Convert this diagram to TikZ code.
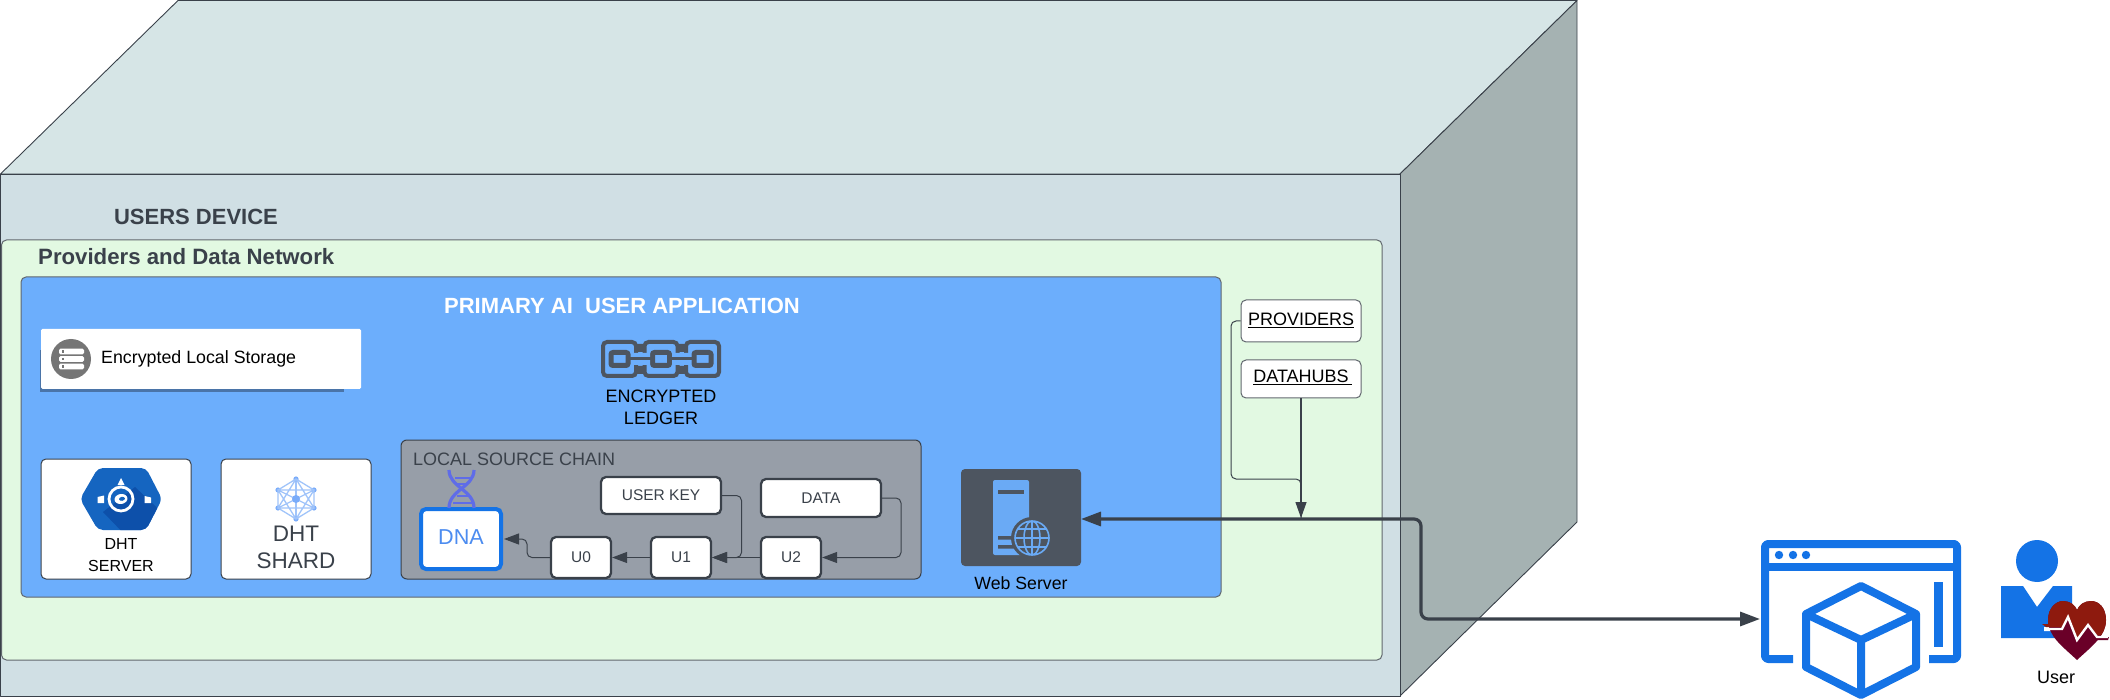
\documentclass[tikz,border=0pt]{standalone}
\usepackage{fontspec}
\setmainfont{Liberation Sans}
\usetikzlibrary{arrows.meta,calc}
\definecolor{topface}{HTML}{D6E5E6}
\definecolor{frontface}{HTML}{D0DFE4}
\definecolor{sideface}{HTML}{A5B2B2}
\definecolor{netgreen}{HTML}{E2F9E2}
\definecolor{appblue}{HTML}{6CAEFC}
\definecolor{chaingray}{HTML}{979EA8}
\definecolor{ink}{HTML}{3A414A}
\definecolor{darkbox}{HTML}{4D5560}
\definecolor{vivid}{HTML}{1473E6}
\definecolor{helixcol}{HTML}{5F6CE8}
\definecolor{shadowblue}{HTML}{4A74A8}
\definecolor{storegray}{HTML}{757575}
\definecolor{hexblue}{HTML}{1565C0}
\definecolor{hexdark}{HTML}{0D50AA}
\definecolor{netline}{HTML}{A0C4FA}
\definecolor{netdot}{HTML}{7AACFA}
\definecolor{dnatext}{HTML}{4C8CF0}
\definecolor{towerblue}{HTML}{6AAAF5}
\definecolor{heartlow}{HTML}{6A0028}
\definecolor{hearttop}{HTML}{8E1A0E}
\newcommand{\fs}[2]{\fontsize{#1}{#2}\selectfont}
\tikzset{
  x=1pt,y=-1pt,
  face/.style={draw=ink,line width=0.9pt,line join=round},
  panel/.style={draw=ink!80,line width=1pt,rounded corners=5pt},
  card/.style={draw=ink,fill=white,line width=1pt,rounded corners=5pt,inner sep=0pt,align=center},
  heavycard/.style={draw=ink,fill=white,line width=2.3pt,rounded corners=5pt,inner sep=0pt,align=center,text=ink,font=\fs{15.5}{18}},
  txt/.style={inner sep=0pt,align=center},
  thin link/.style={draw=ink,line width=1pt,rounded corners=5pt,-{Triangle[length=15pt,width=11pt]}},
  plain link/.style={draw=ink,line width=1pt,rounded corners=5pt},
  main link/.style={draw=ink,line width=3.2pt,rounded corners=7pt,{Triangle[length=20pt,width=14pt]}-{Triangle[length=20pt,width=14pt]}},
  iconline/.style={draw=vivid,line width=8pt,line join=round},
}
\begin{document}
\begin{tikzpicture}
\useasboundingbox (0,0) rectangle (2110,700);
% the device box
\fill[white] (0,0) rectangle (2110,700);
\draw[face,fill=topface] (0.5,174) -- (178,0.5) -- (1577,0.5) -- (1400,174) -- cycle;
\draw[face,fill=sideface] (1400,174) -- (1577,0.5) -- (1577,522) -- (1400,696) -- cycle;
\draw[face,fill=frontface] (0.5,174) rectangle (1400,696);
\node[txt,font=\bfseries\fs{22}{26},text=ink] (device) at (196,217) {USERS DEVICE};
% network and application panels
\draw[panel,fill=netgreen] (1.5,240) rectangle (1382,660);
\node[txt,font=\bfseries\fs{22.2}{26},text=ink,anchor=west] (network) at (38,257) {Providers and Data Network};
\draw[panel,fill=appblue] (21,277) rectangle (1221,597);
\node[txt,font=\bfseries\fs{22}{26},text=white] (app) at (622,305.5) {PRIMARY AI\ \ USER APPLICATION};
% encrypted storage
\fill[shadowblue] (40,350) rectangle (344,392);
\fill[white,rounded corners=1.5pt] (41,329) rectangle (361,389);
\fill[storegray] (71,359) circle (20);
\foreach \yy in {351.5,359,366.5}{
  \fill[white,rounded corners=1.5pt] (59,{\yy-2.8}) rectangle (84,{\yy+2.8});
  \fill[storegray] (61.5,{\yy-1.2}) rectangle (64,{\yy+1.2});
}
\node[txt,font=\fs{17.8}{20},text=black,anchor=west] (storage) at (101,359) {Encrypted Local Storage};
% DHT server
\node[card,minimum width=150pt,minimum height=120pt] (server) at (116,519) {};
\fill[hexblue,rounded corners=5pt] (98,468) -- (146,468) -- (162,499) -- (146,530) -- (98,530) -- (80,499) -- cycle;
\begin{scope}
\clip[rounded corners=5pt] (98,468) -- (146,468) -- (162,499) -- (146,530) -- (98,530) -- (80,499) -- cycle;
\fill[hexdark] (103,512) -- (135,487) -- (170,520) -- (150,540) -- (130,540) -- cycle;
\end{scope}
\draw[white,line width=2.8pt] (121,499) circle (12);
\fill[white,rotate around={10:(121,499)}] (121,499) ellipse (6.5 and 5);
\fill[hexblue,rotate around={10:(121,499)}] (122,499) ellipse (3 and 2);
\fill[white] (121,478) -- (124.5,485) -- (117.5,485) -- cycle;
\fill[white] (97.5,497) -- (104,495.5) -- (104,503) -- (97.5,503) -- cycle;
\fill[white] (144.5,496) -- (151,497.5) -- (151,503) -- (144.5,503) -- cycle;
\node[txt,font=\fs{16}{21.5}] (servertxt) at (121,555) {DHT\\SERVER};
% DHT shard
\node[card,minimum width=150pt,minimum height=120pt] (shard) at (296,519) {};
\foreach \a/\b in {296/479,314/490,314/508,296/519,278/508,278/490}{
  \draw[netline,line width=1.3pt] (296,499) -- (\a,\b);
  \fill[netdot] (\a,\b) circle (2.6);
}
\draw[netline,line width=1.3pt] (296,479) -- (314,490) -- (314,508) -- (296,519) -- (278,508) -- (278,490) -- cycle
  (296,479) -- (314,508) -- (278,508) -- cycle (296,519) -- (314,490) -- (278,490) -- cycle;
\fill[netdot] (296,499) circle (4);
\node[txt,font=\fs{22.5}{27},text=ink] (shardtxt) at (296,547.5) {DHT\\SHARD};
% ledger
\foreach \cx in {619.5,661,702.5}{
  \draw[darkbox,line width=4pt,rounded corners=4pt] ({\cx-16.5},342) rectangle ({\cx+16.5},376);
  \draw[darkbox,line width=5pt,rounded corners=2pt] ({\cx-8.5},352.5) rectangle ({\cx+8.5},365.5);
}
\fill[darkbox] (636,344) rectangle (645,352) (636,366) rectangle (645,374) (677,344) rectangle (686,352) (677,366) rectangle (686,374);
\fill[appblue] (631,353) rectangle (650,365) (672,353) rectangle (691,365);
\draw[darkbox,line width=3pt] (629,359) -- (652,359) (670,359) -- (693,359);
\node[txt,font=\fs{18}{22},text=black] (ledger) at (661,407.5) {ENCRYPTED\\LEDGER};
% local source chain
\draw[draw=ink,fill=chaingray,line width=1pt,rounded corners=6pt] (401,440) rectangle (921,579);
\node[txt,font=\fs{18}{22},text=ink,anchor=west] (chain) at (413,459) {LOCAL SOURCE CHAIN};
\node[draw=vivid,fill=white,line width=4pt,rounded corners=5pt,inner sep=0pt,minimum width=80pt,minimum height=60pt,font=\fs{21.6}{26},text=dnatext] (dna) at (461,539) {\raisebox{3pt}{DNA}};
\draw[helixcol,line width=3.2pt] (449,470) .. controls (449,487) and (474,490) .. (474,508);
\draw[helixcol,line width=3.2pt] (474,470) .. controls (474,487) and (449,490) .. (449,508);
\draw[helixcol,line width=2.4pt] (455,478) -- (470,478) (455,484) -- (467,484) (457,496) -- (470,496) (453,503) -- (473,503);
\node[heavycard,minimum width=120pt,minimum height=37pt] (ukey) at (661,495.5) {USER KEY};
\node[heavycard,minimum width=120pt,minimum height=38pt] (data) at (821,498) {DATA};
\node[heavycard,minimum width=60pt,minimum height=41pt] (u0) at (581,557.5) {U0};
\node[heavycard,minimum width=60pt,minimum height=41pt] (u1) at (681,557.5) {U1};
\node[heavycard,minimum width=60pt,minimum height=41pt] (u2) at (791,557.5) {U2};
\coordinate (dnain) at (504,539);
\coordinate (bendzero) at (527,548);
\coordinate (bendkey) at (741.5,520);
\coordinate (benddata) at (901,520);
\draw[thin link] (u0.west) -- (bendzero |- u0.west) -- (bendzero |- dnain) -- (dnain);
\draw[thin link] (u1.west) -- (u0.east);
\draw[thin link] (u2.west) -- (u1.east);
\draw[thin link] (ukey.east) -- (bendkey |- ukey.east) -- (bendkey |- u1.east) -- (u1.east);
\draw[thin link] (data.east) -- (benddata |- data.east) -- (benddata |- u2.east) -- (u2.east);
% web server
\node[fill=darkbox,rounded corners=4pt,inner sep=0pt,minimum width=120pt,minimum height=97pt] (web) at (1021,517.5) {};
\fill[towerblue,rounded corners=2pt] (993,480) -- (1029,480) -- (1029,555) -- (993,555) -- cycle;
\fill[darkbox] (998,490) rectangle (1024,494);
\fill[darkbox] (998,536) rectangle (1014,539.5) (998,545) rectangle (1014,548.5);
\fill[darkbox] (1032,538) circle (21);
\draw[draw=towerblue,line width=1.6pt] (1032,538) circle (17) (1032,538) ellipse (8 and 17) (1015,538) -- (1049,538) (1032,521) -- (1032,555) (1018,529) -- (1046,529) (1018,547) -- (1046,547);
\node[txt,font=\fs{17.7}{20},text=black] (webtxt) at (1021,583) {Web Server};
% providers and datahubs
\node[card,draw=ink!80,minimum width=120pt,minimum height=42pt] (providers) at (1301,321) {};
\node[txt,font=\fs{18}{22},text=black] (providerstxt) at (1301,320) {\underline{PROVIDERS}};
\node[card,draw=ink!80,minimum width=120pt,minimum height=38pt] (datahubs) at (1301,379) {};
\node[txt,font=\fs{18}{22},text=black] (datahubstxt) at (1302.5,377) {\underline{DATAHUBS\hspace{3pt}}};
\coordinate (junct) at (1301,518);
\coordinate (provbend) at (1231,479);
\draw[plain link] (providers.west) -- (provbend |- providers.west) -- (provbend) -- (provbend -| junct) -- (junct);
% browser and user
\coordinate (browserin) at (1760,619);
\coordinate (webout) at (1081,519);
\coordinate (mainbend) at (1421,570);
\draw[main link] (browserin) -- (mainbend |- browserin) -- (mainbend |- webout) -- (webout);
\draw[draw=ink,line width=1.2pt,-{Triangle[length=16pt,width=11pt]}] (datahubs.south) -- (junct);
\draw[iconline,rounded corners=3pt] (1793,659) -- (1765,659) -- (1765,544) -- (1957,544) -- (1957,659) -- (1929,659);
\draw[draw=vivid,line width=8pt] (1765,567) -- (1957,567);
\fill[vivid] (1779,555) circle (4.2) (1793,555) circle (4.2) (1806,555) circle (4.2);
\fill[vivid] (1934,582) rectangle (1943,647);
\draw[iconline] (1861,586) -- (1916,614) -- (1916,667) -- (1861,695) -- (1806,667) -- (1806,614) -- cycle;
\draw[iconline] (1806,614) -- (1861,640) -- (1916,614) (1861,640) -- (1861,695);
\fill[vivid] (2037,561) circle (21);
\fill[vivid] (2001,586) -- (2023,586) -- (2037,607) -- (2053,586) -- (2072,586) -- (2072,638) -- (2001,638) -- cycle;
\draw[white,line width=4pt,line join=miter] (2044,629) -- (2062,629) -- (2068,617) -- (2077,640) -- (2088,625) -- (2097,637) -- (2108,637);
\begin{scope}
\clip (2077,660) .. controls (2062,646) and (2048,636) .. (2048,620) .. controls (2048,608) and (2056,601) .. (2063,601) .. controls (2070,601) and (2075,605) .. (2077,610) .. controls (2079,605) and (2084,601) .. (2091,601) .. controls (2099,601) and (2106,608) .. (2106,620) .. controls (2106,636) and (2092,646) .. (2077,660) -- cycle;
\fill[heartlow] (2040,595) rectangle (2110,665);
\fill[hearttop] (2040,595) -- (2110,595) -- (2110,635) -- (2097,635) -- (2088,623) -- (2077,638) -- (2068,615) -- (2062,627) -- (2040,627) -- cycle;
\end{scope}
\fill[hearttop] (2042,624) -- (2053,624) -- (2053,627) -- (2046,627) -- cycle;
\fill[heartlow] (2097,637) -- (2109,637) -- (2108,640) -- (2097,640) -- cycle;
\draw[white,line width=2.4pt,line join=miter] (2044,629) -- (2062,629) -- (2068,617) -- (2077,640) -- (2088,625) -- (2097,637) -- (2108,637);
\node[txt,font=\fs{18}{22},text=black] (usertxt) at (2056,677) {User};
\end{tikzpicture}
\end{document}
